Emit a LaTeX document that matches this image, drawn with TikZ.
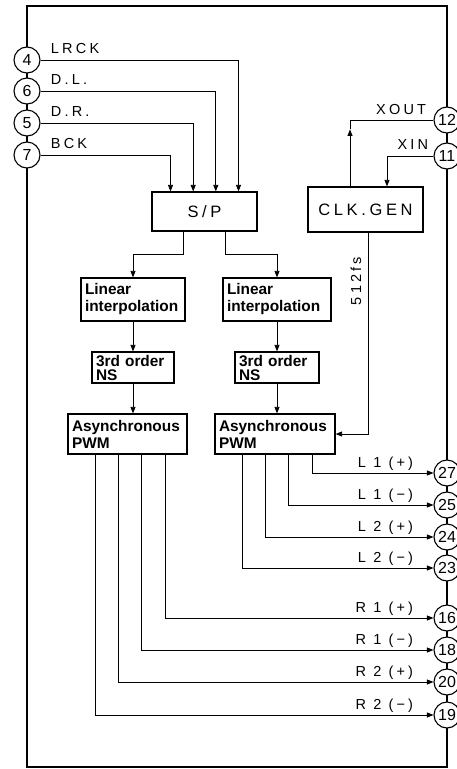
\documentclass[tikz,border=0pt]{standalone}
\usepackage{fontspec}
\setmainfont{Liberation Sans}
\newfontfamily\lblfont[LetterSpace=22]{Liberation Sans}
\usetikzlibrary{arrows.meta}

\begin{document}
\begin{tikzpicture}[x=1pt,y=-1pt,line width=0.8pt,>={Triangle[length=6.5pt,width=5pt]},
	every node/.style={inner sep=0pt},
	blk/.style={draw,line width=1.2pt,inner xsep=4pt,align=left,font=\fontsize{15.4}{17}\selectfont\bfseries},
	sbox/.style={draw,line width=1.2pt,font=\lblfont\fontsize{16.5}{17}\selectfont},
	pin/.style={draw,circle,line width=1.1pt,fill=white,minimum size=26pt,font=\fontsize{16}{16}\selectfont},
	lbl/.style={font=\lblfont\fontsize{14.5}{15}\selectfont}]
	\useasboundingbox (0,0) rectangle (457,769);
	\draw[line width=1.2pt] (27,6) rectangle (447,767);

	% blocks
	\node[sbox,minimum width=105pt,minimum height=39pt] (sp) at (204.5,211.5) {S/P};
	\node[sbox,minimum width=115pt,minimum height=45pt] (clk) at (365.5,209.5) {CLK.GEN};
	\node[blk,text width=96pt,minimum height=43pt] (lin1) at (133,299.5) {Linear\\interpolation};
	\node[blk,text width=100pt,minimum height=43pt] (lin2) at (277,299.5) {Linear\\interpolation};
	\node[blk,text width=74pt,minimum height=31pt,font=\fontsize{15.4}{14}\selectfont\bfseries] (ns1) at (133,367.5) {3rd order\\NS};
	\node[blk,text width=76pt,minimum height=31pt,font=\fontsize{15.4}{14}\selectfont\bfseries] (ns2) at (277,367.5) {3rd order\\NS};
	\node[blk,text width=111pt,minimum height=40pt] (pwm1) at (127.5,434) {Asynchronous\\PWM};
	\node[blk,text width=112pt,minimum height=40pt] (pwm2) at (275,434) {Asynchronous\\PWM};

	% pins
	\foreach \n/\y in {4/60,6/91,5/123,7/155}
		\node[pin] (p\n) at (27,\y) {\n};
	\foreach \n/\y in {12/120,11/156,27/473,25/505,24/537,23/568,16/618,18/650,20/682,19/715}
		\node[pin] (p\n) at (447,\y) {\n};

	% inputs to S/P
	\foreach \n/\s/\t in {4/34/LRCK,6/11.3/D.L.,5/-11.3/D.R.,7/-34/BCK}{
		\draw[->] (p\n) -| ([xshift=\s pt]sp.north);
		\node[lbl,anchor=base west] (l\n) at ([xshift=10pt,yshift=7pt]p\n.east) {\t};
	}

	% signal chain
	\draw[->] ([xshift=-21pt]sp.south) -- ++(0,23) -| (lin1.north);
	\draw[->] ([xshift=21pt]sp.south) -- ++(0,23) -| (lin2.north);
	\draw[->] (lin1) -- (ns1);
	\draw[->] (lin2) -- (ns2);
	\draw[->] (ns1.south) -- (ns1.south |- pwm1.north);
	\draw[->] (ns2.south) -- (ns2.south |- pwm2.north);

	% clock
	\draw[->] ([xshift=-15.5pt]clk.north) -- ++(0,-57) coordinate (xo);
	\draw (xo) |- (p12);
	\draw[->] (p11) -| ([xshift=21.5pt]clk.north);
	\node[lbl,anchor=base east] (lxo) at ([xshift=-7pt,yshift=6pt]p12.west) {XOUT};
	\node[lbl,anchor=base east] (lxi) at ([xshift=-5pt,yshift=7pt]p11.west) {XIN};
	\draw[->] ([xshift=2.5pt]clk.south) |- (pwm2.east);
	\node[lbl,rotate=90] (lfs) at (356,281) {512fs};

	% outputs
	\foreach \s/\n/\t in {37/27/{L 1 (+)},13.7/25/{L 1 (−)},-9.6/24/{L 2 (+)},-33/23/{L 2 (−)}}{
		\draw[->] ([xshift=\s pt]pwm2.south) |- (p\n);
		\node[lbl,anchor=base east] (l\n) at ([xshift=-20pt,yshift=6pt]p\n.west) {\t};
	}
	\foreach \s/\n/\t in {37.5/16/{R 1 (+)},13.5/18/{R 1 (−)},-9.5/20/{R 2 (+)},-32.5/19/{R 2 (−)}}{
		\draw[->] ([xshift=\s pt]pwm1.south) |- (p\n);
		\node[lbl,anchor=base east] (l\n) at ([xshift=-20pt,yshift=6pt]p\n.west) {\t};
	}
\end{tikzpicture}
\end{document}
